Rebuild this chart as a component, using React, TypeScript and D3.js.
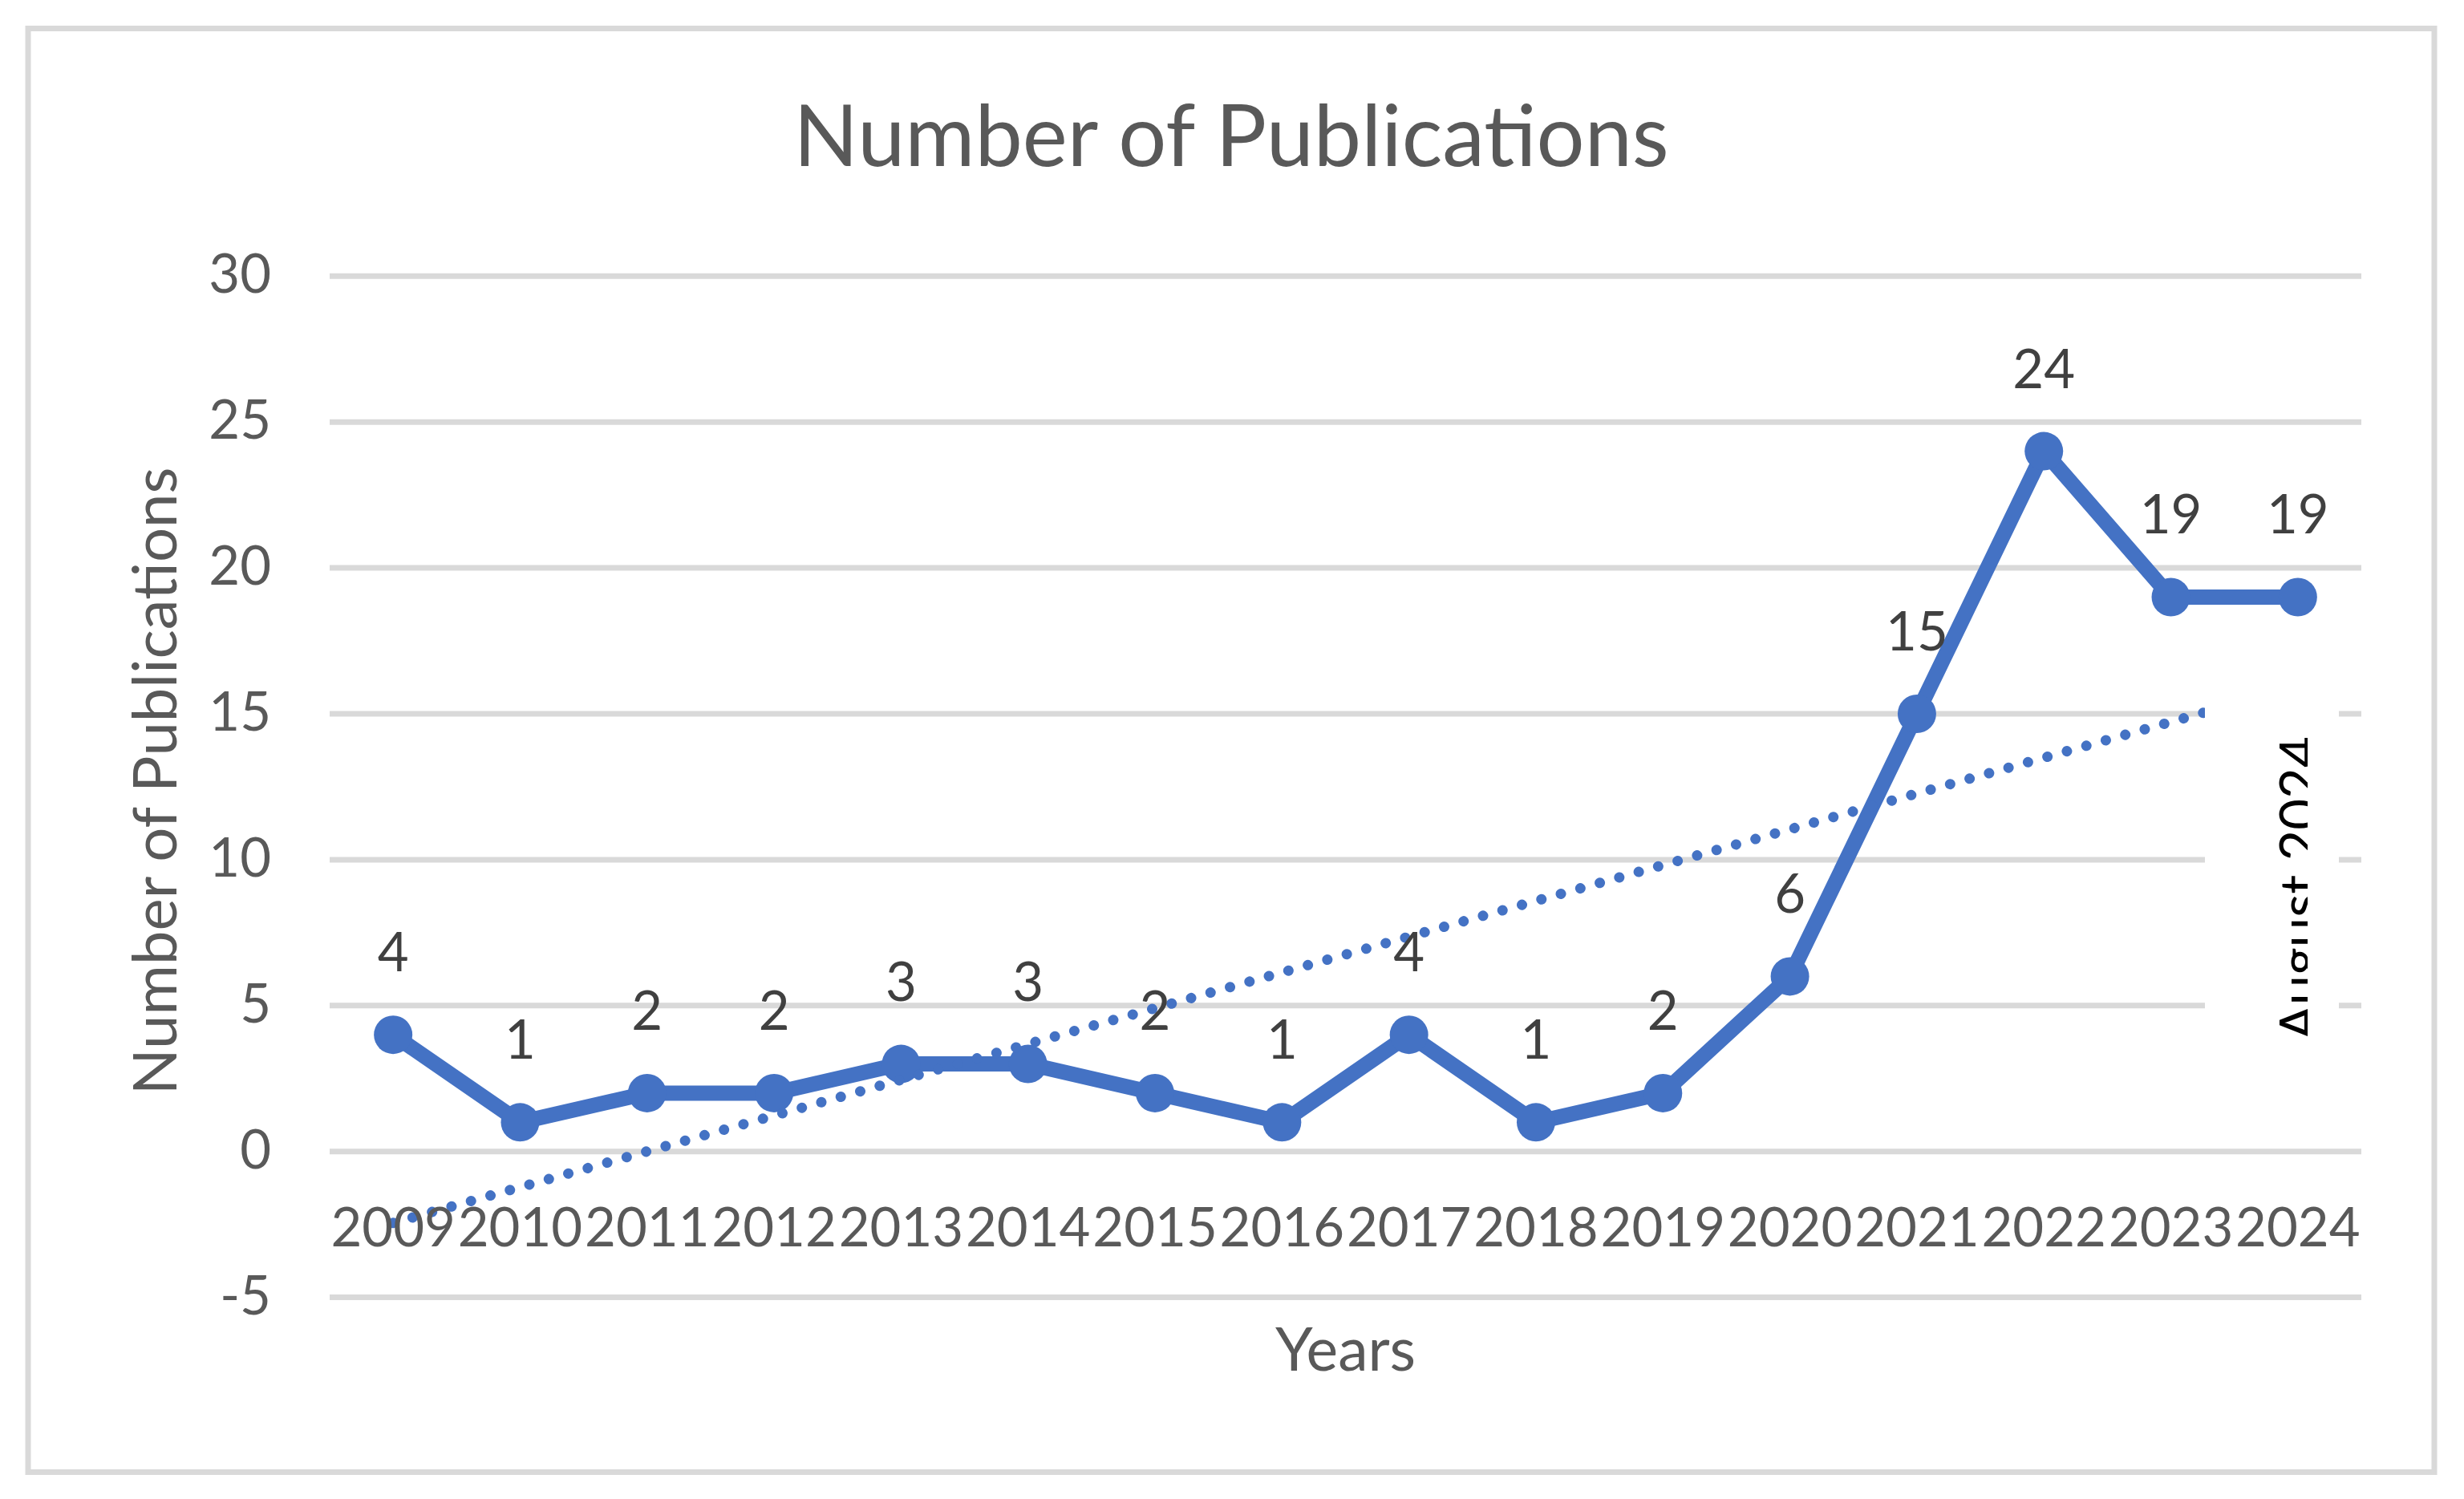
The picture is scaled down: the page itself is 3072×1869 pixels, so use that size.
import React, { useEffect, useRef } from "react";
import * as d3 from "d3";

const years = [
  "2009", "2010", "2011", "2012", "2013", "2014", "2015", "2016",
  "2017", "2018", "2019", "2020", "2021", "2022", "2023", "2024",
];
const publications = [4, 1, 2, 2, 3, 3, 2, 1, 4, 1, 2, 6, 15, 24, 19, 19];
const yTicks = [-5, 0, 5, 10, 15, 20, 25, 30];
const chartTitle = "Number of Publications";
const yTitle = "Number of Publications";
const xTitle = "Years";
const note = "August 2024";

const W = 3072;
const H = 1869;
const FONT = "Lato, 'Open Sans', sans-serif";
const BLUE = "#4472C4";

const App = () => {
  const svgRef = useRef<SVGSVGElement>(null);

  useEffect(() => {
    const svg = d3.select(svgRef.current);
    svg.selectAll("*").remove();

    // ---------------------- scales
    const plot = { left: 411, right: 2944, top: 344.3, bottom: 1617.6 };
    const x = d3.scaleBand().domain(years).range([plot.left, plot.right]);
    const cx = (d: string) => (x(d) as number) + x.bandwidth() / 2;
    const y = d3
      .scaleLinear()
      .domain([d3.min(yTicks) as number, d3.max(yTicks) as number])
      .range([plot.bottom, plot.top]);

    // ---------------------- frame
    svg.append("rect").attr("width", W).attr("height", H).attr("fill", "#fff");
    svg
      .append("rect")
      .attr("x", 35)
      .attr("y", 35.5)
      .attr("width", 3000)
      .attr("height", 1800)
      .attr("fill", "#fff")
      .attr("stroke", "#d9d9d9")
      .attr("stroke-width", 7);

    // ---------------------- title
    svg
      .append("text")
      .attr("x", 1535)
      .attr("y", 207)
      .attr("text-anchor", "middle")
      .attr("font-family", FONT)
      .attr("font-size", 106)
      .attr("fill", "#595959")
      .text(chartTitle);

    // ---------------------- grid + y labels
    svg
      .append("g")
      .selectAll("line")
      .data(yTicks)
      .join("line")
      .attr("x1", plot.left)
      .attr("x2", plot.right)
      .attr("y1", d => y(d))
      .attr("y2", d => y(d))
      .attr("stroke", "#d9d9d9")
      .attr("stroke-width", 7);

    svg
      .append("g")
      .selectAll("text")
      .data(yTicks)
      .join("text")
      .attr("x", 338)
      .attr("y", d => y(d) + 21)
      .attr("text-anchor", "end")
      .attr("font-family", FONT)
      .attr("font-size", 67)
      .attr("fill", "#595959")
      .text(d => d);

    // ---------------------- series line
    const line = d3
      .line<number>()
      .x((_, i) => cx(years[i]))
      .y(d => y(d));

    svg
      .append("path")
      .datum(publications)
      .attr("d", line)
      .attr("fill", "none")
      .attr("stroke", BLUE)
      .attr("stroke-width", 19)
      .attr("stroke-linejoin", "round");

    svg
      .append("g")
      .selectAll("circle")
      .data(publications)
      .join("circle")
      .attr("cx", (_, i) => cx(years[i]))
      .attr("cy", d => y(d))
      .attr("r", 24)
      .attr("fill", BLUE);

    // ---------------------- linear trendline
    const xs = publications.map((_, i) => i + 1);
    const mx = d3.mean(xs) as number;
    const my = d3.mean(publications) as number;
    const slope =
      (d3.sum(xs, (v, i) => (v - mx) * (publications[i] - my)) as number) /
      (d3.sum(xs, v => (v - mx) ** 2) as number);
    const icpt = my - slope * mx;
    const trend = [xs[0], xs[xs.length - 1]].map(v => ({
      px: cx(years[v - 1]),
      py: y(icpt + slope * v),
    }));

    svg
      .append("line")
      .attr("x1", trend[0].px)
      .attr("y1", trend[0].py)
      .attr("x2", trend[1].px)
      .attr("y2", trend[1].py)
      .attr("stroke", BLUE)
      .attr("stroke-width", 13)
      .attr("stroke-linecap", "round")
      .attr("stroke-dasharray", "0.01 25.2");

    // ---------------------- x labels
    svg
      .append("g")
      .selectAll("text")
      .data(years)
      .join("text")
      .attr("x", d => cx(d))
      .attr("y", y(0) + 118)
      .attr("text-anchor", "middle")
      .attr("font-family", FONT)
      .attr("font-size", 67)
      .attr("fill", "#595959")
      .text(d => d);

    // ---------------------- data labels
    svg
      .append("g")
      .selectAll("text")
      .data(publications)
      .join("text")
      .attr("x", (_, i) => cx(years[i]))
      .attr("y", d => y(d) - 79)
      .attr("text-anchor", "middle")
      .attr("font-family", FONT)
      .attr("font-size", 67)
      .attr("fill", "#404040")
      .text(d => d);

    // ---------------------- axis titles
    svg
      .append("text")
      .attr("transform", "translate(220,974) rotate(-90)")
      .attr("text-anchor", "middle")
      .attr("font-family", FONT)
      .attr("font-size", 76)
      .attr("fill", "#595959")
      .text(yTitle);

    svg
      .append("text")
      .attr("x", (plot.left + plot.right) / 2)
      .attr("y", 1709)
      .attr("text-anchor", "middle")
      .attr("font-family", FONT)
      .attr("font-size", 75)
      .attr("fill", "#595959")
      .text(xTitle);

    // ---------------------- note box (white, clips its text)
    svg
      .append("rect")
      .attr("x", 2749)
      .attr("y", 800)
      .attr("width", 167)
      .attr("height", 615)
      .attr("fill", "#fff");

    svg
      .append("clipPath")
      .attr("id", "noteClip")
      .append("rect")
      .attr("x", 2749)
      .attr("y", 800)
      .attr("width", 128)
      .attr("height", 615);

    svg
      .append("g")
      .attr("clip-path", "url(#noteClip)")
      .append("text")
      .attr("transform", "translate(2891,1108) rotate(-90)")
      .attr("text-anchor", "middle")
      .attr("font-family", FONT)
      .attr("font-size", 67)
      .attr("fill", "#000")
      .text(note);
  }, []);

  return (
    <div style={{ position: "absolute", left: 0, top: 0 }}>
      <svg ref={svgRef} width={W} height={H} style={{ display: "block" }} />
    </div>
  );
};

export default App;
